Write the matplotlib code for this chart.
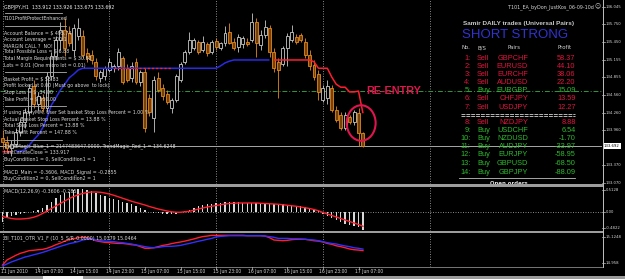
import numpy as np
import matplotlib
matplotlib.use("Agg")
import matplotlib.pyplot as plt
from matplotlib import font_manager
from matplotlib.font_manager import FontProperties
from matplotlib.patches import Rectangle, Ellipse
from matplotlib.lines import Line2D
from matplotlib.transforms import blended_transform_factory

# ---------------- DATA ----------------
OPEN = [133.83, 133.76, 133.66, 133.73, 133.93, 134.10, 134.27, 134.71, 134.41, 134.51,
        134.34, 134.88, 135.22, 135.49, 135.66, 135.61, 135.32, 135.56, 135.56, 135.27,
        135.23, 135.12, 134.85, 134.88, 134.98, 135.01, 135.05, 135.18, 135.01, 134.85,
        135.12, 134.78, 134.95, 134.51, 134.17, 134.85, 134.68, 134.57, 134.34, 134.47,
        134.81, 135.12, 135.29, 135.35, 135.45, 135.32, 135.42, 135.29, 135.47, 135.35,
        135.44, 135.62, 135.45, 135.37, 135.42, 135.45, 135.49, 135.79, 135.40, 135.57,
        135.69, 135.29, 135.12, 135.08, 135.35, 135.49, 135.54, 135.57, 135.45, 135.23,
        135.07, 134.91, 134.47, 134.51, 134.68, 134.31, 134.22, 134.00, 134.19, 134.10,
        134.25, 133.912]
HIGH = [133.97, 133.87, 133.80, 134.00, 134.17, 134.34, 134.74, 134.81, 134.61, 134.58,
        134.95, 135.29, 135.55, 135.79, 135.86, 135.72, 135.76, 135.86, 135.66, 135.35,
        135.32, 135.18, 134.98, 135.05, 135.18, 135.08, 135.35, 135.22, 135.08, 135.12,
        135.18, 134.98, 135.01, 134.58, 134.88, 134.95, 134.74, 134.64, 134.51, 134.91,
        135.12, 135.32, 135.62, 135.52, 135.49, 135.56, 135.45, 135.49, 135.52, 135.45,
        135.72, 135.77, 135.52, 135.59, 135.56, 135.52, 135.94, 135.86, 135.66, 135.83,
        135.74, 135.35, 135.18, 135.39, 135.61, 135.74, 135.59, 135.61, 135.52, 135.32,
        135.15, 134.98, 134.73, 134.81, 134.73, 134.37, 134.27, 134.27, 134.22, 134.31,
        134.34, 133.926]
LOW = [133.66, 133.60, 133.53, 133.68, 133.87, 134.00, 134.20, 134.34, 134.31, 134.27,
       134.27, 134.81, 135.15, 135.32, 135.22, 135.39, 135.22, 135.49, 135.18, 135.12,
       135.08, 134.81, 134.78, 134.81, 134.95, 134.95, 134.98, 134.74, 134.78, 134.78,
       134.74, 134.71, 133.93, 134.20, 133.93, 134.61, 134.47, 134.41, 134.25, 134.44,
       134.78, 135.08, 135.25, 135.32, 135.25, 135.29, 135.22, 135.25, 135.32, 135.32,
       135.39, 135.42, 135.32, 135.29, 135.35, 135.39, 135.45, 135.20, 135.32, 135.52,
       135.20, 134.95, 134.51, 135.05, 135.05, 135.45, 135.42, 135.45, 135.18, 134.98,
       134.81, 134.47, 134.44, 134.41, 134.27, 134.10, 133.97, 133.97, 134.07, 134.05,
       133.70, 133.675]
CLOSE = [133.76, 133.66, 133.73, 133.93, 134.10, 134.27, 134.68, 134.41, 134.54, 134.34,
         134.88, 135.22, 135.49, 135.66, 135.35, 135.44, 135.69, 135.69, 135.23, 135.18,
         135.15, 134.88, 134.95, 135.01, 135.12, 135.05, 135.29, 134.78, 134.81, 135.05,
         134.78, 134.95, 134.00, 134.27, 134.81, 134.64, 134.54, 134.44, 134.47, 134.88,
         135.08, 135.29, 135.49, 135.49, 135.29, 135.45, 135.27, 135.45, 135.37, 135.44,
         135.61, 135.44, 135.35, 135.54, 135.52, 135.42, 135.79, 135.44, 135.57, 135.71,
         135.29, 135.01, 134.98, 135.35, 135.56, 135.62, 135.45, 135.49, 135.23, 135.05,
         134.86, 134.61, 134.68, 134.71, 134.31, 134.14, 134.00, 134.22, 134.10, 134.27,
         133.917, 133.692]

TM_BLUE = ([None] * 3 +
           [133.60, 133.61, 133.63, 133.71, 133.80, 133.88, 134.00, 134.17, 134.39, 134.51,
            134.64, 134.74, 134.85, 134.91, 134.98] +
           [135.01] * 31 + [135.05, 135.10, 135.13] + [135.15] * 9 + [None] * 21)
TM_RED = ([133.60] * 4 + [None] * 21 + [135.01] * 14 + [None] * 21 + [135.15] * 10 +
          [135.12, 135.01, 135.01, 135.01, 134.86, 134.74, 134.69, 134.69, 134.61, 134.61,
           134.6248, 134.25])

MACD_MAIN = [-0.207, -0.10, -0.087, -0.06, -0.04, -0.02, 0.005, 0.02, 0.047, 0.087,
             0.14, 0.207, 0.273, 0.333, 0.38, 0.407, 0.433, 0.453, 0.46, 0.447,
             0.42, 0.38, 0.347, 0.313, 0.287, 0.26, 0.233, 0.20, 0.18, 0.153,
             0.127, 0.087, 0.047, 0.007, -0.02, -0.027, -0.033, -0.047, -0.047, -0.033,
             -0.007, 0.013, 0.047, 0.08, 0.113, 0.14, 0.153, 0.167, 0.173, 0.18,
             0.193, 0.193, 0.193, 0.193, 0.187, 0.18, 0.187, 0.18, 0.18, 0.173,
             0.167, 0.167, 0.16, 0.153, 0.147, 0.14, 0.127, 0.113, 0.10, 0.073,
             0.047, 0.013, -0.033, -0.087, -0.127, -0.167, -0.20, -0.233, -0.26, -0.287,
             -0.307, -0.3606]
MACD_SIGNAL = [-0.09, -0.11, -0.13, -0.14, -0.14, -0.135, -0.125, -0.105, -0.075, -0.03,
               0.02, 0.07, 0.12, 0.17, 0.22, 0.27, 0.31, 0.345, 0.37, 0.39,
               0.40, 0.40, 0.395, 0.38, 0.36, 0.335, 0.305, 0.275, 0.245, 0.215,
               0.19, 0.165, 0.14, 0.11, 0.085, 0.06, 0.04, 0.02, 0.005, -0.005,
               -0.005, 0.005, 0.015, 0.035, 0.06, 0.08, 0.10, 0.115, 0.13, 0.145,
               0.16, 0.17, 0.175, 0.18, 0.18, 0.18, 0.18, 0.18, 0.175, 0.17,
               0.165, 0.16, 0.155, 0.145, 0.135, 0.125, 0.115, 0.10, 0.085, 0.07,
               0.05, 0.025, -0.01, -0.04, -0.07, -0.10, -0.13, -0.16, -0.19, -0.22,
               -0.25, -0.2855]

OTR_RED = [14.958, 14.986, 14.999, 15.012, 15.023, 15.030, 15.038, 15.040, 15.043, 15.045,
           15.051, 15.060, 15.071, 15.080, 15.091, 15.099, 15.104, 15.110, 15.112, 15.110,
           15.103, 15.093, 15.088, 15.084, 15.082, 15.080, 15.078, 15.078, 15.075, 15.071,
           15.069, 15.060, 15.051, 15.051, 15.054, 15.060, 15.067, 15.071, 15.077, 15.082,
           15.086, 15.091, 15.097, 15.103, 15.110, 15.116, 15.119, 15.123, 15.123, 15.123,
           15.123, 15.123, 15.123, 15.123, 15.123, 15.121, 15.121, 15.121, 15.121, 15.119,
           15.110, 15.097, 15.095, 15.093, 15.095, 15.099, 15.101, 15.101, 15.101, 15.097,
           15.093, 15.091, 15.086, 15.078, 15.073, 15.065, 15.060, 15.054, 15.047, 15.043,
           15.041, 15.0379]
OTR_BLUE = [14.953, 14.964, 14.975, 14.984, 14.993, 15.002, 15.008, 15.015, 15.021, 15.028,
            15.036, 15.045, 15.053, 15.062, 15.069, 15.077, 15.082, 15.088, 15.097, 15.101,
            15.101, 15.097, 15.093, 15.091, 15.090, 15.088, 15.084, 15.082, 15.078, 15.075,
            15.069, 15.065, 15.060, 15.056, 15.054, 15.056, 15.060, 15.062, 15.062, 15.064,
            15.067, 15.073, 15.078, 15.084, 15.090, 15.095, 15.101, 15.106, 15.114, 15.117,
            15.119, 15.121, 15.121, 15.121, 15.121, 15.121, 15.121, 15.121, 15.121, 15.119,
            15.116, 15.112, 15.106, 15.106, 15.106, 15.104, 15.104, 15.103, 15.101, 15.099,
            15.097, 15.093, 15.088, 15.082, 15.078, 15.075, 15.069, 15.064, 15.060, 15.054,
            15.051, 15.0464]

TIME_LABELS = ["11 Jun 2010", "14 Jun 07:00", "14 Jun 15:00", "14 Jun 23:00", "15 Jun 07:00",
               "15 Jun 15:00", "15 Jun 23:00", "16 Jun 07:00", "16 Jun 15:00", "16 Jun 23:00",
               "17 Jun 07:00"]
TIME_LABEL_BARS = [0, 8, 16, 24, 32, 40, 48, 56, 64, 72, 80]
GRID_BARS = [0, 24, 48, 72, 96]
PRICE_TICKS = [136.045, 135.750, 135.450, 135.155, 134.855, 134.560, 134.260, 133.960, 133.370, 133.070]
BID = 133.692
LEVEL_LINE = 134.63

ROW_SIDE = ["Sell", "Sell", "Sell", "Sell", "Buy", "Sell", "Sell",
            "Sell", "Buy", "Buy", "Buy", "Buy", "Buy", "Buy"]
ROW_PAIR = ["GBPCHF", "EURUSD", "EURCHF", "AUDUSD", "EURGBP", "CHFJPY", "USDJPY",
            "NZDJPY", "USDCHF", "NZDUSD", "AUDJPY", "EURJPY", "GBPUSD", "GBPJPY"]
ROW_PROFIT = [58.37, 44.10, 38.06, 22.20, 15.09, 13.59, 12.27,
              8.88, 6.54, -1.70, -33.97, -58.95, -68.50, -88.09]

INFO_LINES = [
    (19, "T101ProfitProtectEnhanced"),
    (33, "Account Balance = $ 495.74"),
    (39.5, "Account Leverage = 500:1"),
    (46, "MARGIN CALL ?  NO!"),
    (52, "Total Possible Loss = $ 6.88"),
    (58.5, "Total Margin Requirements = $ 30.82"),
    (66, "Lots = 0.01 (One micro lot = 0.01)"),
    (80, "Basket Profit = $ 58.83"),
    (86, "Profit locked at 0.00 (Must go above  to lock)"),
    (93, "Stop Loss = $ -34.00"),
    (99.5, "Take Profit = $ 500.00"),
    (113, "If using DonyMM, User Set basket Stop Loss Percent = 1.00 %"),
    (119.5, "Actual Basket Stop Loss Percent = 13.88 %"),
    (126, "Total Stop Loss Percent = 13.88 %"),
    (133, "Take Profit Percent = 147.88 %"),
    (146, "TrendMagic_Blue_1 = 2147483647.0000, TrendMagic_Red_1 = 134.6248"),
    (153, "LastCandleClose = 133.917"),
    (159.5, "BuyCondition1 = 0, SellCondition1 = 1"),
    (172, "MACD_Main = -0.3606, MACD_Signal = -0.2855"),
    (178.5, "BuyCondition2 = 0, SellCondition2 = 1"),
]
INFO_RULES = [(13, 62), (26, 66), (72, 66), (106, 66), (140, 62), (165, 62)]

# ---------------- FONTS ----------------
W, H = 625, 279


def find_condensed(bold):
    prefs = ["Liberation Sans Narrow", "DejaVu Sans Condensed", "DejaVu Sans",
             "Roboto Condensed", "Open Sans Condensed", "Noto Sans"]
    cands = []
    for f in font_manager.fontManager.ttflist:
        if f.style != "normal":
            continue
        w = f.weight if isinstance(f.weight, (int, float)) else (700 if "bold" in str(f.weight) else 400)
        if (w >= 600) != bold:
            continue
        st = str(f.stretch)
        cond = ("Narrow" in f.name or "Condensed" in f.name or "ondensed" in f.fname or
                st in ("condensed", "semi-condensed", "extra-condensed"))
        if cond:
            rank = prefs.index(f.name) if f.name in prefs else len(prefs)
            cands.append((rank, f.fname))
    cands.sort()
    return cands[0][1] if cands else None


COND_PATH = find_condensed(False)
COND_BOLD_PATH = find_condensed(True)


def FP(kind, size):
    if kind == "narrow":
        if COND_PATH:
            return FontProperties(fname=COND_PATH, size=size)
        return FontProperties(family="Liberation Sans", size=size)
    if kind == "narrowbold":
        if COND_BOLD_PATH:
            return FontProperties(fname=COND_BOLD_PATH, size=size)
        return FontProperties(family="Liberation Sans", weight="bold", size=size)
    if kind == "bold":
        return FontProperties(family="Liberation Sans", weight="bold", size=size)
    return FontProperties(family="Liberation Sans", size=size)


fig = plt.figure(figsize=(W / 100, H / 100), dpi=100, facecolor="black")
renderer = fig.canvas.get_renderer()


def fit(kind, text, target_px):
    t = fig.text(0, 0, text, fontproperties=FP(kind, 10))
    w = t.get_window_extent(renderer).width
    t.remove()
    return 10 * target_px / w


FS_INFO = fit("narrow", "If using DonyMM, User Set basket Stop Loss Percent = 1.00 %", 145)
FS_AX = fit("narrow", "136.045", 16)
FS_TIME = fit("narrow", "14 Jun 07:00", 29)
FS_ROW = fit("regular", "GBPCHF", 31)
FS_HDR = fit("narrow", "Profit", 14)
FS_EA = fit("narrow", "T101_EA_byDon_JustKos_06-09-10d", 86)
FS_SAMIR = fit("bold", "Samir DAILY trades (Universal Pairs)", 112)
FS_SHORT = fit("regular", "SHORT STRONG", 106)
FS_RE = fit("bold", "RE-ENTRY", 54)
FS_OPEN = fit("narrowbold", "Open orders", 37)

# ---------------- LAYOUT ----------------
X0, DX = 2.5, 4.45          # pixel position of bar 0 and bar spacing
PLOT_R = 602                # right edge of plot area (px)


def bx(i):
    return X0 + DX * i


def F(x, y):
    return x / W, 1 - y / H


def make_ax(top, bottom):
    ax = fig.add_axes([0, 1 - bottom / H, PLOT_R / W, (bottom - top) / H])
    ax.set_facecolor("black")
    ax.set_xlim((0 - X0) / DX, (PLOT_R - X0) / DX)
    for s in ax.spines.values():
        s.set_visible(False)
    ax.set_xticks([])
    ax.set_yticks([])
    for g in GRID_BARS:
        ax.axvline(g, color="#9a9a9a", lw=0.6, ls=(0, (1.2, 1.8)), zorder=1)
    return ax


# main price panel: y pixel 0..184
P_TOP, P_BOT = 136.163, 133.055
axp = make_ax(0, 184)
axp.set_ylim(P_BOT, P_TOP)
n = len(OPEN)
idx = np.arange(n)
o, h, l, c = (np.array(a, float) for a in (OPEN, HIGH, LOW, CLOSE))
up = c >= o
for i in range(n):
    edge = "#c8c8c8" if up[i] else "#e48a1c"
    face = "black" if up[i] else "#764008"
    axp.vlines(i, l[i], h[i], color=edge, lw=0.6, zorder=3)
    bot = min(o[i], c[i])
    ht = max(abs(c[i] - o[i]), 0.01)
    axp.add_patch(Rectangle((i - 0.33, bot), 0.66, ht, facecolor=face, edgecolor=edge,
                            lw=0.6, zorder=4))

axp.axhline(LEVEL_LINE, color="#2f9a3a", lw=0.7, ls=(0, (5, 2, 1, 2)), zorder=2)
axp.axhline(BID, color="#a8a8a8", lw=0.7, zorder=2)

tmb = np.array([np.nan if v is None else v for v in TM_BLUE], float)
tmr = np.array([np.nan if v is None else v for v in TM_RED], float)
axp.plot(idx, tmb, color="#2a2ae6", lw=1.1, zorder=5, solid_capstyle="butt")
both = ~np.isnan(tmb) & ~np.isnan(tmr)
red_solid = np.where(both, np.nan, tmr)
red_over = np.where(both, tmr, np.nan)
axp.plot(idx, red_solid, color="#ff1e2d", lw=1.1, zorder=6, solid_capstyle="butt")
axp.plot(idx, red_over, color="#ff1e2d", lw=1.0, ls=(0, (1.5, 1.5)), zorder=6)

# annotation: RE-ENTRY + circle around the last candles
last = n - 1
axp.add_patch(Ellipse((last - 0.4, 134.085), 6.5, 0.60, fill=False, edgecolor="#e0144e",
                      lw=1.5, zorder=7))
axp.text(*F(366, 91), "RE-ENTRY", transform=fig.transFigure, color="#e0144e",
         fontproperties=FP("bold", FS_RE), va="center", ha="left", zorder=8)

# MACD panel: y pixel 187..231
axm = make_ax(187, 231)
axm.set_ylim(-0.38, 0.50)
axm.axhline(0, color="#9a9a9a", lw=0.6, ls=(0, (1.2, 1.8)), zorder=1)
axm.bar(idx, MACD_MAIN, width=0.3, color="#d8d8d8", zorder=2)
axm.plot(idx, MACD_SIGNAL, color="#ff1e2d", lw=1.0, zorder=3)

# OTR panel: y pixel 233..267
axo = make_ax(233, 267)
axo.set_ylim(14.947, 15.136)
axo.plot(idx, OTR_RED, color="#ff1e2d", lw=1.0, zorder=3)
axo.plot(idx, OTR_BLUE, color="#3030ff", lw=1.0, zorder=4)

# panel separators, right axis line, bottom strip
for y0, hh in [(184, 2.6), (231, 2.0)]:
    fig.add_artist(Rectangle(F(0, y0 + hh), PLOT_R / W + 0.002, hh / H,
                             transform=fig.transFigure, facecolor="#9c9c9c", edgecolor="none"))
fig.add_artist(Line2D([PLOT_R / W + 0.0008] * 2, [F(0, 267)[1], 1], transform=fig.transFigure,
                      color="#c0c0c0", lw=0.7))
fig.add_artist(Line2D([0, PLOT_R / W], [F(0, 267.3)[1]] * 2, transform=fig.transFigure,
                      color="#8a8a8a", lw=0.6))
fig.add_artist(Rectangle(F(0, 279), 1, 3.5 / H, transform=fig.transFigure,
                         facecolor="#9a9a9a", edgecolor="none"))
fig.add_artist(Rectangle(F(43, 279), 40 / W, 3 / H, transform=fig.transFigure,
                         facecolor="#f4f4f4", edgecolor="none"))

# right price axis labels
tr = blended_transform_factory(fig.transFigure, axp.transData)
for p in PRICE_TICKS:
    axp.text(606 / W, p, f"{p:.3f}", transform=tr, color="#d8d8d8",
             fontproperties=FP("narrow", FS_AX), va="center", ha="left", clip_on=False)
    axp.add_line(Line2D([PLOT_R / W, 605 / W], [p, p], transform=tr, color="#c0c0c0",
                        lw=0.5, clip_on=False))
axp.text(604 / W, BID, f"{BID:.3f}", transform=tr, color="black",
         fontproperties=FP("narrow", FS_AX), va="center", ha="left", clip_on=False,
         bbox=dict(boxstyle="square,pad=0.2", facecolor="white", edgecolor="none"))


# sub-panel scale labels (MT4 prints max/min at panel edges)
def edge_label(ax, yfrac, txt):
    t = blended_transform_factory(fig.transFigure, ax.transAxes)
    ax.text(606 / W, yfrac, txt, transform=t, color="#d8d8d8",
            fontproperties=FP("narrow", FS_AX), va="center", ha="left", clip_on=False)
    ax.add_line(Line2D([PLOT_R / W, 605 / W], [yfrac, yfrac], transform=t, color="#c0c0c0",
                       lw=0.5, clip_on=False))


edge_label(axm, 0.93, "0.5128")
edge_label(axm, (0 + 0.38) / 0.88, "0.00")
edge_label(axm, 0.07, "-0.4822")
edge_label(axo, 0.88, "15.1248")
edge_label(axo, 0.12, "14.958")

# time axis labels
for b, lab in zip(TIME_LABEL_BARS, TIME_LABELS):
    x = bx(b)
    fig.text(*F(x - (1 if b == 0 else 3.5), 271.5), lab, color="#d8d8d8",
             fontproperties=FP("narrow", FS_TIME), va="center", ha="left")
    fig.add_artist(Line2D([x / W] * 2, [F(0, 267)[1], F(0, 269)[1]],
                          transform=fig.transFigure, color="#c0c0c0", lw=0.5))

# indicator captions
fig.text(*F(4, 192), "MACD(12,26,9) -0.3606 -0.2855", color="#d8d8d8",
         fontproperties=FP("narrow", FS_INFO), va="center", ha="left")
fig.text(*F(4, 238), "BI_T101_OTR_V1_F (10_5_S/R_0.0000) 15.0379 15.0464", color="#d8d8d8",
         fontproperties=FP("narrow", FS_INFO), va="center", ha="left")

# top-left info block
fig.text(*F(4, 7), "GBPJPY,H1  133.912 133.926 133.675 133.692", color="#eeeeee",
         fontproperties=FP("narrow", FS_INFO), va="center", ha="left")
for y, txt in INFO_LINES:
    fig.text(*F(4, y), txt, color="#dadada", fontproperties=FP("narrow", FS_INFO),
             va="center", ha="left")
for y, x1 in INFO_RULES:
    fig.add_artist(Line2D([5 / W, x1 / W], [F(0, y)[1]] * 2, transform=fig.transFigure,
                          color="#b0b0b0", lw=0.6))

# top-right EA title and table
fig.text(*F(594, 7), "T101_EA_byDon_JustKos_06-09-10d", color="#d8d8d8",
         fontproperties=FP("narrow", FS_EA), va="center", ha="right")
fig.text(*F(595, 7), "\u263a", color="#d8d8d8", fontsize=FS_EA * 1.1, family="DejaVu Sans",
         va="center", ha="left")
fig.text(*F(463, 24), "Samir DAILY trades (Universal Pairs)", color="#c8c8c8",
         fontproperties=FP("bold", FS_SAMIR), va="center", ha="left")
fig.text(*F(462, 35), "SHORT STRONG", color="#3232d2",
         fontproperties=FP("regular", FS_SHORT), va="center", ha="left")
for x, txt in [(461, "No."), (478, "B/S"), (508, "Pairs"), (558, "Profit")]:
    fig.text(*F(x, 47.5), txt, color="#d0d0d0", fontproperties=FP("narrow", FS_HDR),
             va="center", ha="left")
ROW_Y = [59, 67, 74.5, 82.5, 90.5, 99, 107.5, 122, 130.5, 138.5, 146.5, 155, 163.5, 172]
RED, GREEN = "#e3143e", "#2bbb2b"
for k in range(len(ROW_PAIR)):
    col = RED if ROW_SIDE[k] == "Sell" else GREEN
    y = ROW_Y[k]
    kw = dict(color=col, fontproperties=FP("regular", FS_ROW), va="center")
    fig.text(*F(470.5, y), f"{k + 1}:", ha="right", **kw)
    fig.text(*F(477, y), ROW_SIDE[k], ha="left", **kw)
    fig.text(*F(528, y), ROW_PAIR[k], ha="right", **kw)
    fig.text(*F(575.5, y), f"{ROW_PROFIT[k]:.2f}", ha="right", **kw)
for yy in (113.6, 115.6):
    fig.add_artist(Line2D([461 / W, 575 / W], [F(0, yy)[1]] * 2, transform=fig.transFigure,
                          color="#b8b8b8", lw=0.7, ls=(0, (4, 1))))
fig.add_artist(Line2D([459 / W, 575 / W], [F(0, 178.3)[1]] * 2, transform=fig.transFigure,
                      color="#c0c0c0", lw=0.6))
axp.text(*F(490, 183.2), "Open orders", transform=fig.transFigure, color="#e0e0e0",
         fontproperties=FP("narrowbold", FS_OPEN), va="center", ha="left", clip_on=True)

fig.savefig("out.png", dpi=100, facecolor="black")
